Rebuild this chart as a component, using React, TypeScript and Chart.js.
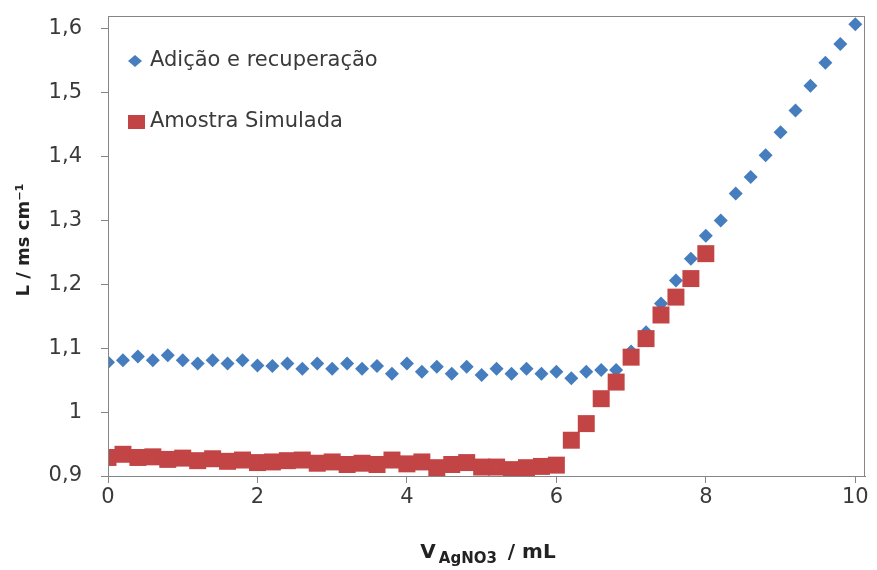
import React, { useEffect, useRef } from "react";
import { Chart, registerables } from "chart.js";

Chart.register(...registerables);

// ---- data ----
const additionVolumes = [
  0.0, 0.2, 0.4, 0.6, 0.8, 1.0, 1.2, 1.4, 1.6, 1.8,
  2.0, 2.2, 2.4, 2.6, 2.8, 3.0, 3.2, 3.4, 3.6, 3.8,
  4.0, 4.2, 4.4, 4.6, 4.8, 5.0, 5.2, 5.4, 5.6, 5.8,
  6.0, 6.2, 6.4, 6.6, 6.8, 7.0, 7.2, 7.4, 7.6, 7.8,
  8.0, 8.2, 8.4, 8.6, 8.8, 9.0, 9.2, 9.4, 9.6, 9.8, 10.0,
];
const additionValues = [
  1.078, 1.081, 1.087, 1.081, 1.089, 1.081, 1.076, 1.081, 1.076, 1.081,
  1.073, 1.072, 1.076, 1.068, 1.076, 1.068, 1.076, 1.068, 1.072, 1.060,
  1.076, 1.063, 1.071, 1.060, 1.071, 1.058, 1.068, 1.060, 1.068, 1.060,
  1.063, 1.053, 1.063, 1.066, 1.066, 1.095, 1.125, 1.170, 1.206, 1.240,
  1.276, 1.300, 1.342, 1.368, 1.402, 1.438, 1.472, 1.511, 1.547, 1.576, 1.607,
];
const sampleVolumes = [
  0.0, 0.2, 0.4, 0.6, 0.8, 1.0, 1.2, 1.4, 1.6, 1.8,
  2.0, 2.2, 2.4, 2.6, 2.8, 3.0, 3.2, 3.4, 3.6, 3.8,
  4.0, 4.2, 4.4, 4.6, 4.8, 5.0, 5.2, 5.4, 5.6, 5.8,
  6.0, 6.2, 6.4, 6.6, 6.8, 7.0, 7.2, 7.4, 7.6, 7.8, 8.0,
];
const sampleValues = [
  0.929, 0.934, 0.929, 0.930, 0.926, 0.928, 0.924, 0.927, 0.923, 0.925,
  0.921, 0.922, 0.924, 0.925, 0.920, 0.922, 0.918, 0.920, 0.918, 0.925,
  0.919, 0.922, 0.913, 0.918, 0.921, 0.914, 0.914, 0.910, 0.913, 0.915,
  0.917, 0.956, 0.982, 1.021, 1.047, 1.086, 1.115, 1.152, 1.180, 1.209, 1.248,
];
const xTickValues = [0, 2, 4, 6, 8, 10];
const yTickValues = [0.9, 1.0, 1.1, 1.2, 1.3, 1.4, 1.5, 1.6];
const seriesNames = ["Adição e recuperação", "Amostra Simulada"];
const yTitle = "L / ms cm⁻¹";
const xTitleMain = "V";
const xTitleSub = "AgNO3";
const xTitleRest = " / mL";

const BLUE = "#467DBE";
const RED = "#C24444";
const AXIS = "#868686";
const TEXT = "#3a3a3a";
const FONT = "'DejaVu Sans', sans-serif";

const framePlugin = {
  id: "frameAndTitles",
  afterDraw(chart: any) {
    const { ctx, chartArea } = chart;
    ctx.save();
    // plot frame
    ctx.strokeStyle = AXIS;
    ctx.lineWidth = 1;
    ctx.strokeRect(
      Math.round(chartArea.left) + 0.5,
      Math.round(chartArea.top) + 0.5,
      Math.round(chartArea.right - chartArea.left) - 1,
      Math.round(chartArea.bottom - chartArea.top)
    );

    // legend inside plot
    const lx = chartArea.left;
    const ly = chartArea.top;
    const ds = chart.data.datasets;
    ctx.font = `21px ${FONT}`;
    ctx.textBaseline = "middle";
    ctx.textAlign = "left";
    // item 1: diamond
    const d1x = lx + 27, d1y = ly + 45;
    ctx.fillStyle = ds[0].backgroundColor;
    ctx.beginPath();
    ctx.moveTo(d1x, d1y - 6);
    ctx.lineTo(d1x + 7, d1y);
    ctx.lineTo(d1x, d1y + 6);
    ctx.lineTo(d1x - 7, d1y);
    ctx.closePath();
    ctx.fill();
    ctx.fillStyle = TEXT;
    ctx.fillText(ds[0].label, lx + 42, d1y);
    // item 2: square
    const d2x = lx + 28.5, d2y = ly + 106;
    ctx.fillStyle = ds[1].backgroundColor;
    ctx.fillRect(d2x - 8.5, d2y - 7, 17, 14);
    ctx.fillStyle = TEXT;
    ctx.fillText(ds[1].label, lx + 42, d2y);

    // y title (rotated)
    ctx.save();
    ctx.translate(24, 240);
    ctx.rotate(-Math.PI / 2);
    ctx.font = `bold 18px ${FONT}`;
    ctx.fillStyle = "#222";
    ctx.textAlign = "center";
    ctx.textBaseline = "middle";
    ctx.fillText(yTitle, 0, 0);
    ctx.restore();

    // x title with subscript
    ctx.fillStyle = "#222";
    ctx.textBaseline = "alphabetic";
    const bigFont = `bold 20px ${FONT}`;
    const subFont = `bold 15px ${FONT}`;
    ctx.font = bigFont;
    const w1 = ctx.measureText(xTitleMain).width;
    const w3 = ctx.measureText(xTitleRest).width;
    ctx.font = subFont;
    const w2 = ctx.measureText(xTitleSub).width;
    const total = w1 + 3 + w2 + 4 + w3;
    const cx = 488;
    let x = cx - total / 2;
    const base = 558;
    ctx.font = bigFont;
    ctx.fillText(xTitleMain, x, base);
    x += w1 + 3;
    ctx.font = subFont;
    ctx.fillText(xTitleSub, x, base + 5);
    x += w2 + 4;
    ctx.font = bigFont;
    ctx.fillText(xTitleRest, x, base);
    ctx.restore();
  },
};

export default function App() {
  const canvasRef = useRef<HTMLCanvasElement | null>(null);

  useEffect(() => {
    const canvas = canvasRef.current;
    if (!canvas) return;
    const chart = new Chart(canvas, {
      type: "scatter",
      data: {
        datasets: [
          {
            label: seriesNames[0],
            data: additionVolumes.map((v, i) => ({ x: v, y: additionValues[i] })),
            backgroundColor: BLUE,
            borderColor: BLUE,
            pointStyle: "rectRot",
            pointRadius: 7,
            pointBorderWidth: 0,
            order: 1,
          },
          {
            label: seriesNames[1],
            data: sampleVolumes.map((v, i) => ({ x: v, y: sampleValues[i] })),
            backgroundColor: RED,
            borderColor: RED,
            pointStyle: "rect",
            pointRadius: 12,
            pointBorderWidth: 0,
            order: 0,
          },
        ],
      },
      options: {
        responsive: false,
        animation: false,
        layout: { padding: { top: 16, right: 8, left: 0, bottom: 0 } },
        plugins: {
          legend: { display: false },
          tooltip: { enabled: false },
        },
        scales: {
          x: {
            type: "linear",
            min: 0,
            max: 10.13,
            afterBuildTicks: (scale: any) => {
              scale.ticks = xTickValues.map((v) => ({ value: v }));
            },
            afterFit: (scale: any) => {
              scale.height = 94;
              scale.paddingLeft = 0;
              scale.paddingRight = 0;
            },
            grid: {
              drawOnChartArea: false,
              drawTicks: true,
              tickLength: 7,
              tickColor: AXIS,
              color: AXIS,
            },
            border: { display: true, color: AXIS },
            ticks: {
              color: TEXT,
              font: { family: FONT, size: 21 },
              padding: 2,
              maxRotation: 0,
              callback: (v: any) => String(v),
            },
          },
          y: {
            type: "linear",
            min: 0.9,
            max: 1.62,
            afterBuildTicks: (scale: any) => {
              scale.ticks = yTickValues.map((v) => ({ value: v }));
            },
            afterFit: (scale: any) => {
              scale.width = 108;
              scale.paddingTop = 0;
              scale.paddingBottom = 0;
            },
            grid: {
              drawOnChartArea: false,
              drawTicks: true,
              tickLength: 7,
              tickColor: AXIS,
              color: AXIS,
            },
            border: { display: true, color: AXIS },
            ticks: {
              color: TEXT,
              font: { family: FONT, size: 21 },
              padding: 19,
              callback: (v: any) => {
                const n = Number(v);
                return Math.abs(n - 1) < 1e-9 ? "1" : n.toFixed(1).replace(".", ",");
              },
            },
          },
        },
      },
      plugins: [framePlugin],
    });
    return () => chart.destroy();
  }, []);

  return (
    <div style={{ position: "fixed", left: 0, top: 0, width: 877, height: 570, background: "#fff" }}>
      <canvas ref={canvasRef} width={877} height={570} style={{ display: "block" }} />
    </div>
  );
}
